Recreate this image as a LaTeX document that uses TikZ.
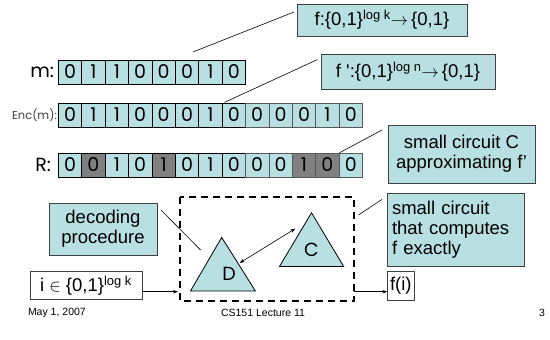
\documentclass[tikz,border=0pt]{standalone}
\usepackage{fontspec}
\setmainfont{Liberation Sans}
\newfontfamily\handfont{Poppins}
\usetikzlibrary{arrows.meta}
\definecolor{cellblue}{RGB}{184,223,226}
\definecolor{cellgray}{RGB}{128,128,128}
\definecolor{boxline}{RGB}{64,64,64}
\newcommand{\bitfont}{\handfont\fontsize{19pt}{19pt}\selectfont}
\newcommand{\boxfont}{\fontsize{18.5pt}{20pt}\selectfont}

\tikzset{
  bitcell/.style={draw=black,fill=cellblue,minimum width=23.4pt,minimum height=24pt,font=\bitfont},
  infobox/.style={draw=boxline,fill=cellblue,font=\boxfont,align=center},
  plainbox/.style={draw=boxline,fill=white,font=\boxfont},
  rowlabel/.style={anchor=east,font=\bitfont},
  footer/.style={font=\fontsize{10.5pt}{12pt}\selectfont},
  thinline/.style={line width=0.6pt},
  feed/.style={line width=0.6pt,-{Stealth[length=5pt,width=3.5pt]}}
}

\begin{document}
\begin{tikzpicture}[x=1pt,y=1pt,line width=0.8pt,line join=miter,
  every node/.style={inner sep=0pt,outer sep=0pt}]
  \path[use as bounding box] (0,0) rectangle (550,340);  % 画布 550×340
  % ---- 三行比特格：格宽 23.4，格高 24，左缘 x=58.3 ----
  \foreach \b [count=\i from 0] in {0,1,1,0,0,0,1,0}
    \node[bitcell] (m\i) at (70+23.4*\i,268) {\b};
  \foreach \b [count=\i from 0] in {0,1,1,0,0,0,1,0}
    \node[bitcell] (e\i) at (70+23.4*\i,225) {\b};
  \foreach \b [count=\i from 8] in {0,0,0,1,0}
    \node[bitcell,draw=black!65] (e\i) at (70+23.4*\i,225) {\b};
  % R 行：深灰格为被改动的位
  \foreach \b/\c [count=\i from 0] in {0/cellblue,0/cellgray,1/cellblue,0/cellblue,1/cellgray,0/cellblue,1/cellblue,0/cellblue}
    \node[bitcell,fill=\c] (r\i) at (70+23.4*\i,175) {\b};
  \foreach \b/\c [count=\i from 8] in {0/cellblue,0/cellblue,1/cellgray,0/cellgray,0/cellblue}
    \node[bitcell,fill=\c,draw=black!65] (r\i) at (70+23.4*\i,175) {\b};
  \node[rowlabel] (mlab) at (54,268) {m:};
  \node[rowlabel,font=\handfont\fontsize{11.5pt}{12pt}\selectfont,text=black!75] (elab) at (57,225) {Enc(m):};
  \node[rowlabel] (rlab) at (51,175) {R:};
  % ---- 右侧说明框 ----
  \node[infobox,minimum width=170pt,minimum height=32pt] (fbox) at (382,320)
    {f:\{0,1\}\textsuperscript{log k}$\rightarrow$\,\{0,1\}};
  \node[infobox,minimum width=174pt,minimum height=35pt] (fpbox) at (408,268.5)
    {f \textquotesingle:\{0,1\}\textsuperscript{log n}$\rightarrow$\,\{0,1\}};
  \node[infobox,minimum width=147pt,minimum height=58pt] (approx) at (461.5,186)
    {small circuit C\\approximating f'};
  \node[infobox,align=left,text width=127pt,inner xsep=5pt,minimum height=73pt] (exact) at (455.5,110.5)
    {small circuit\\that computes\\f exactly};
  \node[infobox,minimum width=108pt,minimum height=52pt] (decode) at (103,111)
    {decoding\\procedure};
  % ---- 引线（自由端取命名坐标）----
  \coordinate (m7top) at (193,288);
  \coordinate (fend)  at (294,328);
  \coordinate (e7top) at (224.5,237.6);
  \coordinate (fpend) at (317.4,280.4);
  \coordinate (r12top) at (339.5,187.2);
  \coordinate (apend) at (382,210);
  \coordinate (dashtr) at (358.5,125);
  \coordinate (exend) at (382,140.6);
  \coordinate (decend) at (161,130);
  \coordinate (dtip) at (200.6,90);
  \draw[thinline] (m7top) -- (fend);
  \draw[thinline] (e7top) -- (fpend);
  \draw[thinline] (r12top) -- (apend);
  \draw[thinline] (dashtr) -- (exend);
  \draw[thinline] (decend) -- (dtip);
  % ---- 虚线框：内含 D、C 两个三角形 ----
  \draw[line width=2.4pt,dash pattern=on 7pt off 5pt] (180,143) rectangle (354,39);
  \coordinate (Dtop) at (221.7,102.6);
  \coordinate (Dl) at (190.5,49);
  \coordinate (Dr) at (255.4,49);
  \coordinate (Ctop) at (311.5,127.2);
  \coordinate (Cl) at (279.5,73.5);
  \coordinate (Cr) at (343.7,73.5);
  \draw[fill=cellblue] (Dtop) -- (Dl) -- (Dr) -- cycle;
  \draw[fill=cellblue] (Ctop) -- (Cl) -- (Cr) -- cycle;
  \node[font=\bitfont] (dlab) at (229,66) {D};
  \node[font=\bitfont] (clab) at (311.5,90.4) {C};
  \coordinate (Dside) at (239.6,77);
  \coordinate (Cside) at (295.3,111.4);
  \draw[thinline,{Stealth[length=5pt,width=3.5pt]}-{Stealth[length=5pt,width=3.5pt]}] (Dside) -- (Cside);
  % ---- 输入 / 输出 ----
  \node[plainbox,minimum width=112pt,minimum height=28pt] (inbox) at (86,54.6)
    {i $\in$ \{0,1\}\textsuperscript{log k}};
  \node[plainbox,minimum width=27pt,minimum height=29pt] (outbox) at (400.8,54.5) {f(i)};
  \coordinate (dashin) at (178,48.3);
  \coordinate (dashout) at (354,48.3);
  \draw[feed] (inbox.east |- dashin) -- (dashin);
  \draw[feed] (dashout) -- (outbox.west |- dashout);
  % ---- 页脚 ----
  \node[footer,anchor=west] (date) at (28,27) {May 1, 2007};
  \node[footer] (course) at (263,27) {CS151 Lecture 11};
  \node[footer] (page) at (542,27) {3};
\end{tikzpicture}
\end{document}
